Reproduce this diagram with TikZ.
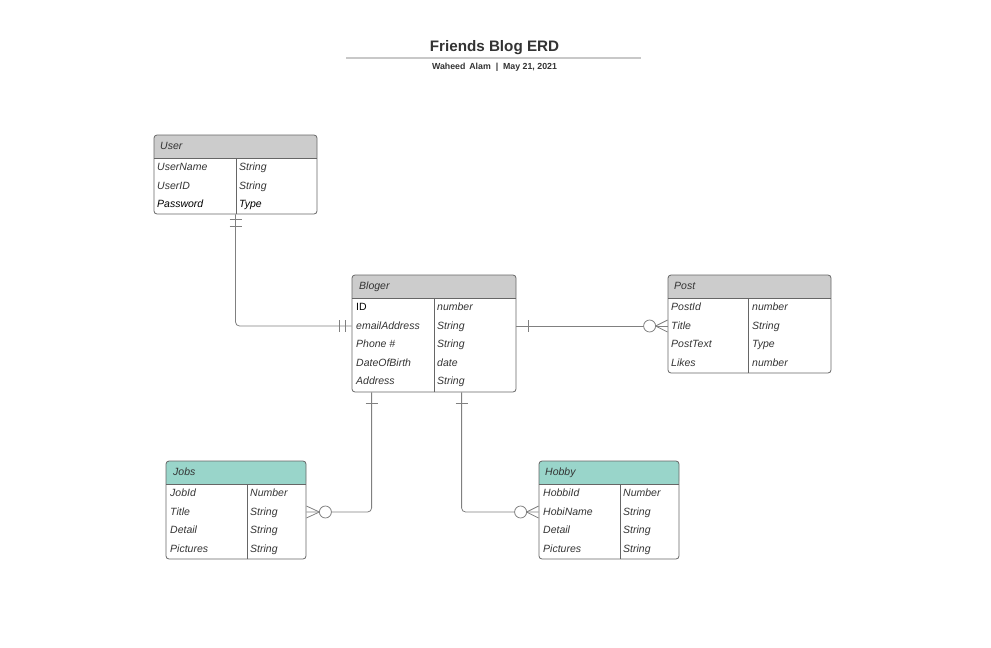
\documentclass[tikz,border=0pt]{standalone}
\usepackage{fontspec}
\setmainfont{Liberation Sans}
\usetikzlibrary{calc}
\definecolor{hdrgray}{HTML}{CCCCCC}
\definecolor{hdrteal}{HTML}{99D5CA}
\definecolor{edge}{HTML}{666666}
\definecolor{wire}{HTML}{808080}
\definecolor{ink}{HTML}{333333}
\definecolor{rulegray}{HTML}{C8C8C8}
\tikzset{
  tbl/.style={draw=edge, line width=0.8pt, rounded corners=3pt, inner sep=0pt},
  sep/.style={draw=edge, line width=0.8pt},
  hdtxt/.style={anchor=west, inner sep=0pt, text height=7.5pt, text depth=2pt, text=ink, font=\fontsize{10.5}{12}\selectfont\itshape},
  cell/.style={anchor=west, inner sep=0pt, text height=7.5pt, text depth=2pt, text=ink, font=\fontsize{10.5}{12}\selectfont\itshape},
  keycell/.style={anchor=west, inner sep=0pt, text height=7.5pt, text depth=2pt, text=black, font=\fontsize{10.5}{12}\selectfont},
  conn/.style={draw=wire, line width=0.8pt}
}
\begin{document}
\begin{tikzpicture}[x=1pt,y=-1pt]
    \useasboundingbox (0,0) rectangle (991,648);
    % heading
    \node[text=ink, font=\fontsize{15.2}{18}\selectfont\bfseries] (title) at (494.5,47.5) {Friends Blog ERD};
    \draw[rulegray, line width=1.5pt] (346,58) -- (641,58);
    \node[text=ink, font=\fontsize{8.8}{10}\selectfont\bfseries] (byline) at (494.5,67.5) {Waheed\, Alam\ \ |\ \ May 21, 2021};

    % User
    \fill[hdrgray, rounded corners=3pt] (154,135) rectangle (317,158);
    \fill[hdrgray] (154,145) rectangle (317,158);
    \node[tbl, minimum width=163pt, minimum height=79pt] (user) at (235.5,174.5) {};
    \draw[sep] (154,158) -- (317,158) (236,158) -- (236,214);
    \node[hdtxt] (user-h) at (160,146.5) {User};
    \foreach \n/\t/\c [count=\i] in {UserName/String/ink, UserID/String/ink, Password/Type/black} {
        \node[cell, text=\c] (user-n\i) at (157,149.5+18.5*\i) {\n};
        \node[cell, text=\c] (user-t\i) at (239,149.5+18.5*\i) {\t};
    }

    % Bloger
    \fill[hdrgray, rounded corners=3pt] (352,275) rectangle (516,298);
    \fill[hdrgray] (352,285) rectangle (516,298);
    \node[tbl, minimum width=164pt, minimum height=117pt] (bloger) at (434,333.5) {};
    \draw[sep] (352,298) -- (516,298) (434,298) -- (434,392);
    \node[hdtxt] (bloger-h) at (359,286.5) {Bloger};
    \node[keycell] (bloger-n1) at (356,308) {ID};
    \node[cell] (bloger-t1) at (437,308) {number};
    \foreach \n/\t [count=\i from 2] in {emailAddress/String, Phone \#/String, DateOfBirth/date, Address/String} {
        \node[cell] (bloger-n\i) at (356,289.5+18.5*\i) {\n};
        \node[cell] (bloger-t\i) at (437,289.5+18.5*\i) {\t};
    }

    % Post
    \fill[hdrgray, rounded corners=3pt] (668,275) rectangle (831,298);
    \fill[hdrgray] (668,285) rectangle (831,298);
    \node[tbl, minimum width=163pt, minimum height=98pt] (post) at (749.5,324) {};
    \draw[sep] (668,298) -- (831,298) (748,298) -- (748,373);
    \node[hdtxt] (post-h) at (674,286.5) {Post};
    \foreach \n/\t [count=\i] in {PostId/number, Title/String, PostText/Type, Likes/number} {
        \node[cell] (post-n\i) at (671,289.5+18.5*\i) {\n};
        \node[cell] (post-t\i) at (752,289.5+18.5*\i) {\t};
    }

    % Jobs
    \fill[hdrteal, rounded corners=3pt] (166,461) rectangle (306,484);
    \fill[hdrteal] (166,471) rectangle (306,484);
    \node[tbl, minimum width=140pt, minimum height=98pt] (jobs) at (236,510) {};
    \draw[sep] (166,484) -- (306,484) (247,484) -- (247,559);
    \node[hdtxt] (jobs-h) at (173,472.5) {Jobs};
    \foreach \n/\t [count=\i] in {JobId/Number, Title/String, Detail/String, Pictures/String} {
        \node[cell] (jobs-n\i) at (170,475.5+18.5*\i) {\n};
        \node[cell] (jobs-t\i) at (250,475.5+18.5*\i) {\t};
    }

    % Hobby
    \fill[hdrteal, rounded corners=3pt] (539,461) rectangle (679,484);
    \fill[hdrteal] (539,471) rectangle (679,484);
    \node[tbl, minimum width=140pt, minimum height=98pt] (hobby) at (609,510) {};
    \draw[sep] (539,484) -- (679,484) (620,484) -- (620,559);
    \node[hdtxt] (hobby-h) at (545,472.5) {Hobby};
    \foreach \n/\t [count=\i] in {HobbiId/Number, HobiName/String, Detail/String, Pictures/String} {
        \node[cell] (hobby-n\i) at (543,475.5+18.5*\i) {\n};
        \node[cell] (hobby-t\i) at (623,475.5+18.5*\i) {\t};
    }

    % relations
    \coordinate (bl-in) at (bloger.west |- 0,326);
    \coordinate (bl-out) at (bloger.east |- 0,326);
    \coordinate (po-in) at (post.west |- 0,326);
    \coordinate (bl-s1) at ($(bloger.south west)+(20,0)$);
    \coordinate (bl-s2) at ($(bloger.south west)+(110,0)$);
    \coordinate (jo-in) at (jobs.east |- 0,512);
    \coordinate (ho-in) at (hobby.west |- 0,512);

    % User -- Bloger
    \draw[conn, rounded corners=4pt] (user.south) |- (bl-in);
    \draw[conn] ($(user.south)+(-6,5)$) -- ++(12,0) ($(user.south)+(-6,12)$) -- ++(12,0);
    \draw[conn] ($(bl-in)+(-12,-6)$) -- ++(0,12) ($(bl-in)+(-6,-6)$) -- ++(0,12);

    % Bloger -- Post
    \draw[conn] (bl-out) -- (po-in);
    \draw[conn] ($(bl-out)+(12,-6)$) -- ++(0,12);
    \draw[conn, fill=white] ($(po-in)+(-18,0)$) circle (6pt);
    \draw[conn] ($(po-in)+(-12,0)$) -- ($(po-in)+(0,-6)$) ($(po-in)+(-12,0)$) -- ($(po-in)+(0,6)$);

    % Bloger -- Jobs
    \draw[conn, rounded corners=4pt] (bl-s1) |- (jo-in);
    \draw[conn] ($(bl-s1)+(-6,11)$) -- ++(12,0);
    \draw[conn, fill=white] ($(jo-in)+(19,0)$) circle (6pt);
    \draw[conn] ($(jo-in)+(13,0)$) -- ($(jo-in)+(0,-6)$) ($(jo-in)+(13,0)$) -- ($(jo-in)+(0,6)$);

    % Bloger -- Hobby
    \draw[conn, rounded corners=4pt] (bl-s2) |- (ho-in);
    \draw[conn] ($(bl-s2)+(-6,11)$) -- ++(12,0);
    \draw[conn, fill=white] ($(ho-in)+(-18,0)$) circle (6pt);
    \draw[conn] ($(ho-in)+(-12,0)$) -- ($(ho-in)+(0,-6)$) ($(ho-in)+(-12,0)$) -- ($(ho-in)+(0,6)$);
\end{tikzpicture}
\end{document}
